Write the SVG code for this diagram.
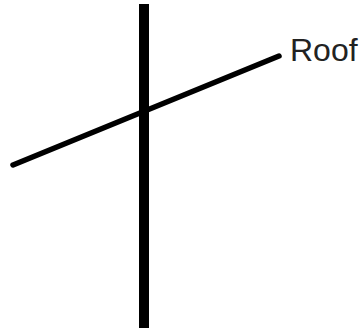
<svg xmlns="http://www.w3.org/2000/svg" width="364" height="329" viewBox="0 0 364 329">
<style>
.ln{stroke:#000;fill:none}
.lbl{font-family:"Liberation Sans",Arial,sans-serif;font-size:32px;fill:#222}
</style>
<rect width="364" height="329" fill="#fff"/>
<g id="connectors">
<line class="ln" x1="144" y1="4" x2="144" y2="328" stroke-width="10"/>
<line class="ln" x1="13" y1="165" x2="279" y2="56" stroke-width="5.5" stroke-linecap="round"/>
</g>
<g id="roof">
<text class="lbl" x="290" y="61">Roof</text>
</g>
</svg>
